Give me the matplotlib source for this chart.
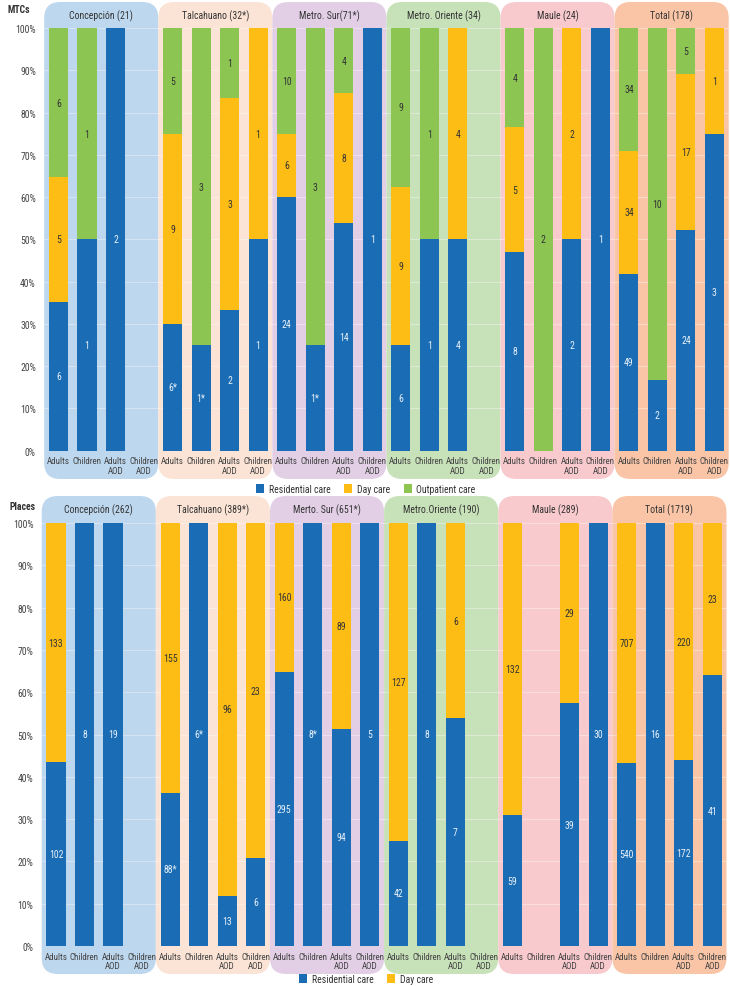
import matplotlib
matplotlib.use('Agg')
import matplotlib.pyplot as plt
import numpy as np
from matplotlib.patches import FancyBboxPatch, Patch

plt.rcParams['font.family'] = ['Roboto Condensed', 'DejaVu Sans']

# ---------------- data ----------------
categories = ['Adults', 'Children', 'Adults\nAOD', 'Children\nAOD']
regions_mtc = ['Concepción (21)', 'Talcahuano (32*)', 'Metro. Sur(71*)',
               'Metro. Oriente (34)', 'Maule (24)', 'Total (178)']
regions_places = ['Concepción (262)', 'Talcahuano (389*)', 'Merto. Sur (651*)',
                  'Metro.Oriente (190)', 'Maule (289)', 'Total (1719)']

# MTCs (per region: Adults, Children, Adults AOD, Children AOD)
mtc_residential = [[6, 1, 2, 0], [6, 1, 2, 1], [24, 1, 14, 1],
                   [6, 1, 4, 0], [8, 0, 2, 1], [49, 2, 24, 3]]
mtc_day = [[5, 0, 0, 0], [9, 0, 3, 1], [6, 0, 8, 0],
           [9, 0, 4, 0], [5, 0, 2, 0], [34, 0, 17, 1]]
mtc_outpatient = [[6, 1, 0, 0], [5, 3, 1, 0], [10, 3, 4, 0],
                  [9, 1, 0, 0], [4, 2, 0, 0], [34, 10, 5, 0]]
mtc_residential_star = [[0, 0, 0, 0], [1, 1, 0, 0], [0, 1, 0, 0],
                        [0, 0, 0, 0], [0, 0, 0, 0], [0, 0, 0, 0]]

# Places
places_residential = [[102, 8, 19, 0], [88, 6, 13, 6], [295, 8, 94, 5],
                      [42, 8, 7, 0], [59, 0, 39, 30], [540, 16, 172, 41]]
places_day = [[133, 0, 0, 0], [155, 0, 96, 23], [160, 0, 89, 0],
              [127, 0, 6, 0], [132, 0, 29, 0], [707, 0, 220, 23]]
places_residential_star = [[0, 0, 0, 0], [1, 1, 0, 0], [0, 1, 0, 0],
                           [0, 0, 0, 0], [0, 0, 0, 0], [0, 0, 0, 0]]

series_names = ['Residential care', 'Day care', 'Outpatient care']

# ---------------- style ----------------
C_RES = '#1a6db4'
C_DAY = '#fdbd15'
C_OUT = '#8cc552'
panel_colors = ['#bdd7ee', '#fbe4d5', '#e2cfe6', '#c7e1b9', '#f8cacd', '#f9c5a6']
TXT = '#333333'
FS = 7

W, H = 730, 987
fig = plt.figure(figsize=(W / 100, H / 100), dpi=100)

bg = fig.add_axes([0, 0, 1, 1], zorder=0)
bg.set_xlim(0, W)
bg.set_ylim(0, H)
bg.axis('off')


def make_axes(left_px, width_px, top_px, bottom_px):
    ax = fig.add_axes([left_px / W, (H - bottom_px) / H, width_px / W,
                       (bottom_px - top_px) / H], zorder=1)
    ax.set_facecolor('none')
    return ax


def draw_panel(ax, series, colors, text_colors, stars, headers, box_top_px, box_bot_px):
    x = np.arange(24)
    arrs = [np.array(s, dtype=float).flatten() for s in series]
    total = sum(arrs)
    bottom = np.zeros(24)
    star = np.array(stars).flatten()
    for k, (vals, col, tc) in enumerate(zip(arrs, colors, text_colors)):
        pct = np.where(total > 0, vals / np.where(total > 0, total, 1) * 100, 0)
        bars = ax.bar(x, pct, bottom=bottom, width=0.67, color=col, zorder=3,
                      edgecolor='none')
        labels = []
        for i, v in enumerate(vals):
            if v > 0:
                s = f'{int(v)}'
                if k == 0 and star[i]:
                    s += '*'
                labels.append(s)
            else:
                labels.append('')
        ax.bar_label(bars, labels=labels, label_type='center', color=tc,
                     fontsize=FS)
        bottom += pct

    ax.set_xlim(-0.5, 23.5)
    ax.set_ylim(0, 100)
    ax.set_yticks(np.arange(0, 101, 10))
    ax.set_yticklabels([f'{v}%' for v in range(0, 101, 10)])
    ax.set_xticks(x)
    ax.set_xticklabels(categories * 6)
    ax.tick_params(length=0, labelsize=FS, colors='#444444')
    ax.tick_params(axis='x', labelsize=6.5)
    ax.tick_params(axis='y', pad=6)
    ax.tick_params(axis='x', pad=4)
    for t in ax.get_xticklabels():
        t.set_linespacing(1.1)
    for sp in ax.spines.values():
        sp.set_visible(False)
    ax.yaxis.grid(True, color='white', alpha=0.35, lw=0.8, zorder=0)
    ax.set_axisbelow(True)

    # rounded region panels
    fig.canvas.draw()
    for g in range(6):
        x0 = ax.transData.transform((-0.5 + 4 * g, 0))[0]
        x1 = ax.transData.transform((3.5 + 4 * g, 0))[0]
        y0 = H - box_bot_px
        y1 = H - box_top_px
        box = FancyBboxPatch((x0, y0), x1 - x0, y1 - y0,
                             boxstyle='round,pad=0,rounding_size=16',
                             fc=panel_colors[g], ec='none', zorder=0)
        bg.add_patch(box)
        bg.text((x0 + x1) / 2, H - (box_top_px + 13), headers[g], ha='center',
                va='center', fontsize=FS, color=TXT)


# top panel: MTCs
ax1 = make_axes(44.2, 684.5, 29, 451.7)
draw_panel(ax1, [mtc_residential, mtc_day, mtc_outpatient],
           [C_RES, C_DAY, C_OUT], ['#e8f1fb', TXT, TXT],
           mtc_residential_star, regions_mtc, 3, 480)

# bottom panel: Places
ax2 = make_axes(41.7, 684.8, 524, 947)
draw_panel(ax2, [places_residential, places_day],
           [C_RES, C_DAY], ['#e8f1fb', TXT],
           places_residential_star, regions_places, 497, 975)

bg.text(7, H - 10, 'MTCs', fontsize=FS, fontweight='bold', color=TXT,
        ha='left', va='center')
bg.text(10, H - 507, 'Places', fontsize=FS, fontweight='bold', color=TXT,
        ha='left', va='center')

h_top = [Patch(fc=c, ec='none') for c in [C_RES, C_DAY, C_OUT]]
fig.legend(h_top, series_names, loc='center', bbox_to_anchor=(366 / W, 1 - 490 / H),
           ncol=3, frameon=False, fontsize=FS, handlelength=0.8, handleheight=1.0,
           handletextpad=0.5, columnspacing=1.4, labelcolor=TXT)
h_bot = [Patch(fc=c, ec='none') for c in [C_RES, C_DAY]]
fig.legend(h_bot, series_names[:2], loc='center', bbox_to_anchor=(366 / W, 1 - 980 / H),
           ncol=2, frameon=False, fontsize=FS, handlelength=0.8, handleheight=1.0,
           handletextpad=0.5, columnspacing=1.4, labelcolor=TXT)

fig.savefig('out.png', dpi=100)
